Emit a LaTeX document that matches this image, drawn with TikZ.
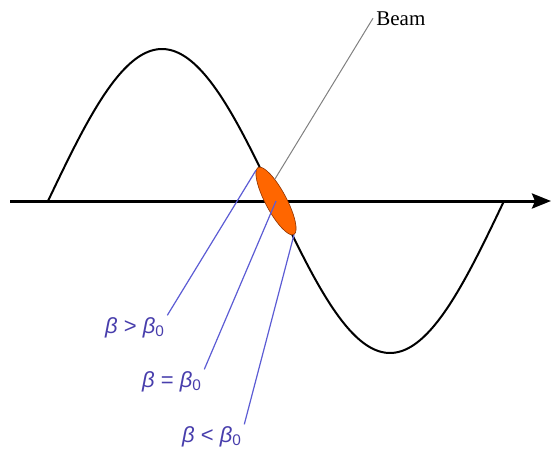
\documentclass[tikz,border=0pt]{standalone}
\usepackage{fontspec}
\setmainfont{Liberation Serif}
\setsansfont{Liberation Sans}
\usetikzlibrary{arrows.meta,shapes.geometric}
\definecolor{spot_orange}{RGB}{255,102,0}
\definecolor{spot_edge}{RGB}{140,50,0}
\definecolor{select_blue}{RGB}{92,92,212}
\definecolor{text_blue}{RGB}{72,62,172}
\tikzset{
    axis_line/.style = {
        draw=black,
        line width=1.5pt,
        -{Stealth[length=9.5pt,width=7.5pt,inset=1.5pt]}
    },
    wave_line/.style = {
        draw=black,
        line width=1pt
    },
    beam_line/.style = {
        draw=gray,
        line width=0.5pt
    },
    select_line/.style = {
        draw=select_blue,
        line width=0.6pt
    },
    spot/.style = {
        ellipse,
        draw=spot_edge,
        line width=0.3pt,
        fill=spot_orange,
        minimum width=38pt,
        minimum height=10.5pt,
        inner sep=0pt
    },
    beam_text/.style = {
        font=\fontsize{10.5}{12}\selectfont,
        inner sep=1.5pt
    },
    select_text/.style = {
        font=\sffamily\fontsize{11}{13}\selectfont,
        text=text_blue,
        inner sep=1pt
    },
}
\begin{document}
\begin{tikzpicture}[x=0.5pt, y=-0.5pt]
                \useasboundingbox (0, 0) rectangle (552, 456);

                \path[wave_line] plot[domain=0:360, samples=90, smooth] ({48 + 1.26667*\x}, {201 - 152*sin(\x)});

                \coordinate (axis_start) at (10, 201);
                \coordinate (axis_end) at (551, 201);
                \path[axis_line] (axis_start) -- (axis_end);

                \node[beam_text, anchor=base west] (beam_lbl) at (373, 25) {Beam};

                \node[spot, rotate=-62] (spot) at (276, 201) {};
                \path[beam_line] (spot.155) -- (beam_lbl.west);

                \node[select_text] (gt_lbl) at (135, 328) {\textit{β} > \textit{β}\textsubscript{0}};
                \node[select_text] (eq_lbl) at (172, 382) {\textit{β} = \textit{β}\textsubscript{0}};
                \node[select_text] (lt_lbl) at (212, 437) {\textit{β} < \textit{β}\textsubscript{0}};

                \path[select_line] (spot.185) -- (gt_lbl.north east);
                \path[select_line] (spot.center) -- (eq_lbl.north east);
                \path[select_line] (spot.east) -- (lt_lbl.north east);
            \end{tikzpicture}
\end{document}
